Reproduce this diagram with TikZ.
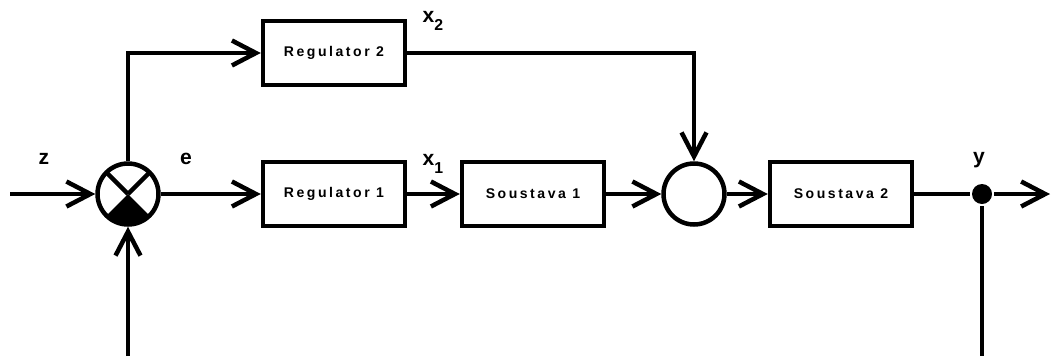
\documentclass[tikz,border=0pt]{standalone}
\usepackage{fontspec}
\setmainfont{Liberation Sans}
\newfontfamily\boxfont[LetterSpace=18]{Liberation Sans}
\usetikzlibrary{arrows.meta}
\newcommand{\lowsub}[1]{\raisebox{-0.75ex}{\fontsize{9}{10}\selectfont #1}}

\begin{document}
\begin{tikzpicture}[x=0.02cm,y=-0.02cm,line width=0.09cm,
  >={Straight Barb[length=0.48cm,width=0.5cm]},
  block/.style={draw, minimum width=2.84cm, minimum height=1.28cm, inner sep=0pt,
    font=\boxfont\fontsize{8}{10}\selectfont\bfseries},
  sumnode/.style={draw, circle, minimum size=1.22cm, inner sep=0pt},
  lbl/.style={font=\fontsize{12}{14}\selectfont\bfseries}]
\useasboundingbox (0,0) rectangle (1051,356);

\node[sumnode] (sum1) at (128,194) {};
\node[block] (reg1) at (334,194) {Regulator 1};
\node[block] (reg2) at (334,53) {Regulator 2};
\node[block] (sys1) at (533,194) {Soustava 1};
\node[sumnode] (sum2) at (694,194) {};
\node[block] (sys2) at (841,194) {Soustava 2};
\node[circle, fill, minimum size=0.4cm, inner sep=0pt] (branch) at (982,194) {};

\coordinate (in) at (10,194);
\coordinate (out) at (1050,194);
\coordinate (fbL) at (128,356);
\coordinate (fbR) at (982,356);

% comparator marks
\fill (sum1.center) -- ++(225:0.61cm) arc[start angle=225, end angle=315, radius=0.61cm] -- cycle;
\draw (sum1.center) -- ++(45:0.61cm);
\draw (sum1.center) -- ++(135:0.61cm);

\node[lbl] (zlab) at (44,159) {z};
\node[lbl] (elab) at (186,159) {e};
\node[lbl] (x1lab) at (433,164) {x\lowsub{1}};
\node[lbl] (x2lab) at (433,21) {x\lowsub{2}};
\node[lbl] (ylab) at (979,160) {y};

\draw[->] (in) -- (sum1);
\draw[->] (sum1) -- (reg1);
\draw[->] (reg1) -- (sys1);
\draw[->] (sys1) -- (sum2);
\draw[->] (sum2) -- (sys2);
\draw (sys2) -- (branch);
\draw[->] (branch) -- (out);
\draw (branch) -- (fbR);
\draw[->] (fbL) -- (sum1);
\draw[->] (sum1) |- (reg2);
\draw[->] (reg2) -| (sum2);
\end{tikzpicture}
\end{document}
